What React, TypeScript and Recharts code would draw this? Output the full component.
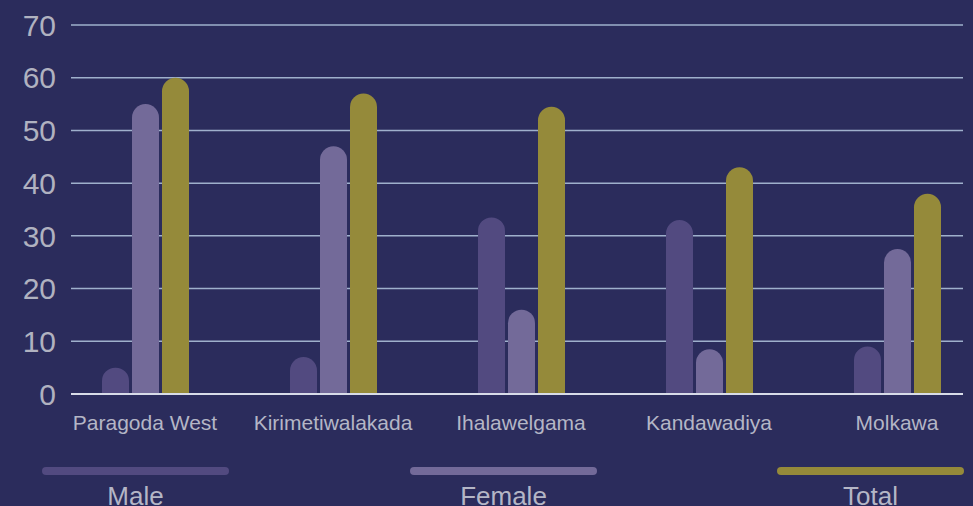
import React from 'react';
import { BarChart, Bar, XAxis, YAxis, CartesianGrid, Legend } from 'recharts';

const categories = ['Paragoda West', 'Kirimetiwalakada', 'Ihalawelgama', 'Kandawadiya', 'Molkawa'];
const male = [5, 7, 33.5, 33, 9];
const female = [55, 47, 16, 8.5, 27.5];
const total = [60, 57, 54.5, 43, 38];
const yTicks = [0, 10, 20, 30, 40, 50, 60, 70];

const series = [
  { key: 'male', name: 'Male', color: '#524a80' },
  { key: 'female', name: 'Female', color: '#736a99' },
  { key: 'total', name: 'Total', color: '#958a3a' },
];

const data = categories.map((name, i) => ({
  name,
  male: male[i],
  female: female[i],
  total: total[i],
}));

const FONT = '"Liberation Sans", Arial, sans-serif';
const legendSlots = [42, 410, 777];

const LegendContent = () => (
  <div style={{ position: 'relative', width: 973, height: 62, fontFamily: FONT }}>
    {series.map((s, i) => (
      <div key={s.key} style={{ position: 'absolute', left: legendSlots[i], top: 0, width: 187 }}>
        <div
          style={{
            position: 'absolute',
            top: 23,
            left: 0,
            width: 187,
            height: 8,
            borderRadius: 4,
            background: s.color,
          }}
        />
        <div
          style={{
            position: 'absolute',
            top: 38.5,
            left: 0,
            width: 187,
            textAlign: 'center',
            fontSize: 26,
            lineHeight: '26px',
            color: '#b4b6c6',
          }}
        >
          {s.name}
        </div>
      </div>
    ))}
  </div>
);

export default function App() {
  return (
    <div style={{ position: 'absolute', left: 0, top: 0, width: 973, height: 506, background: '#2b2c5c', overflow: 'hidden' }}>
      <BarChart
        width={973}
        height={506}
        data={data}
        margin={{ top: 25, right: 10, bottom: 0, left: 0 }}
        barSize={27}
        barGap={3}
      >
        <CartesianGrid horizontal vertical={false} stroke="#9fb0cc" strokeWidth={1.5} />
        <XAxis
          dataKey="name"
          height={50}
          padding={{ left: -20, right: -28 }}
          tickSize={0}
          tickMargin={21}
          axisLine={{ stroke: '#d8dce8', strokeWidth: 2 }}
          tick={{ fill: '#b4b6c6', fontSize: 21, fontFamily: FONT }}
          interval={0}
        />
        <YAxis
          width={71}
          domain={[0, 70]}
          ticks={yTicks}
          tickSize={0}
          tickMargin={15}
          axisLine={false}
          tick={{ fill: '#b0b2c0', fontSize: 30, fontFamily: FONT }}
        />
        <Legend
          verticalAlign="bottom"
          height={62}
          wrapperStyle={{ left: 0, bottom: 0, width: 973, height: 62 }}
          content={<LegendContent />}
        />
        {series.map((s) => (
          <Bar
            key={s.key}
            dataKey={s.key}
            name={s.name}
            fill={s.color}
            radius={[13.5, 13.5, 0, 0]}
            isAnimationActive={false}
          />
        ))}
      </BarChart>
    </div>
  );
}
